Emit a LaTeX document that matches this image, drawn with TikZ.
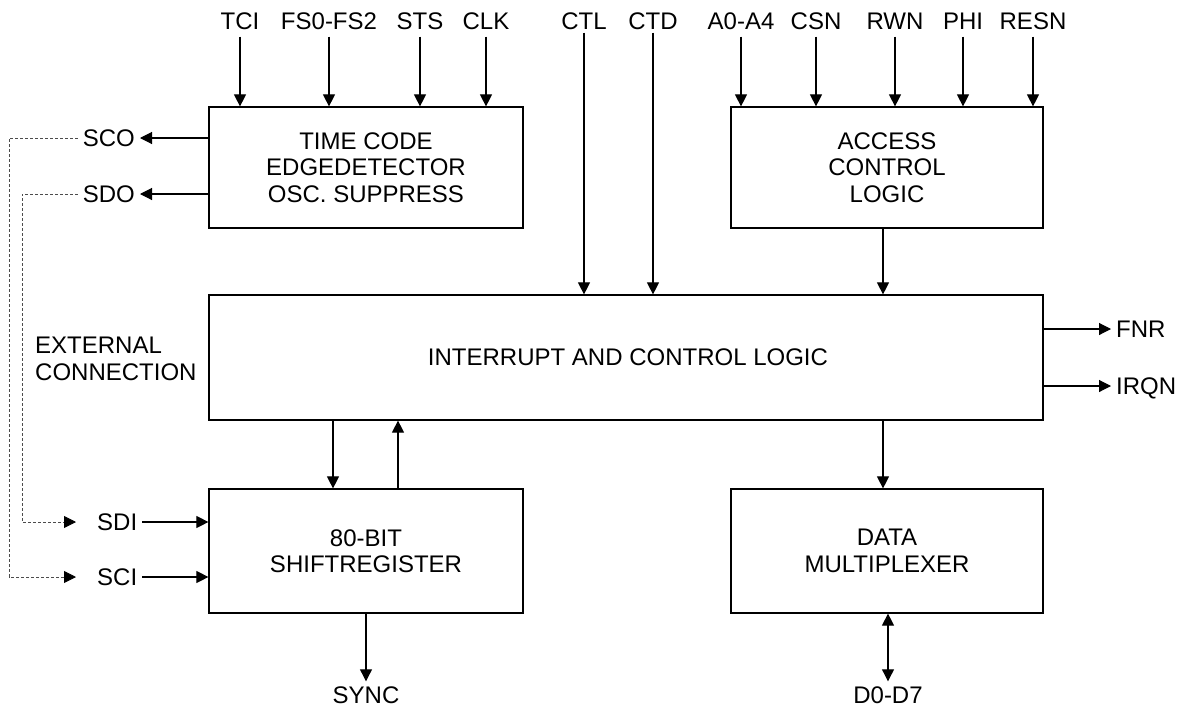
\documentclass[tikz,border=0pt]{standalone}
\usepackage{fontspec}
\setmainfont{Liberation Sans}
\usetikzlibrary{arrows.meta,calc}
\begin{document}
\begin{tikzpicture}[x=1pt,y=-1pt,
  every node/.style={font=\fontsize{24}{26.5}\selectfont, text=black},
  blk/.style={draw, line width=1.2pt, inner sep=0, align=center},
  sig/.style={inner xsep=4pt, inner ysep=7pt, text height=17pt, text depth=0pt},
  arr/.style={line width=1.1pt, -{Triangle[length=12pt,width=12pt]}},
  biarr/.style={line width=1.1pt, {Triangle[length=12pt,width=12pt]}-{Triangle[length=12pt,width=12pt]}},
  dsh/.style={line width=0.8pt, draw=black!70, dash pattern=on 3pt off 2pt, -{Triangle[length=12pt,width=12pt,black]}},
]
\useasboundingbox (0,0) rectangle (1178,707);

% blocks
\node[blk, minimum width=314pt, minimum height=121pt] (tc) at (366,167.5) {TIME CODE\\EDGEDETECTOR\\OSC. SUPPRESS};
\node[blk, minimum width=312pt, minimum height=121pt] (acl) at (887,167.5) {ACCESS\\CONTROL\\LOGIC};
\node[blk, minimum width=834pt, minimum height=125pt] (icl) at (626,357.5) {};
\node at (628,357) {INTERRUPT AND CONTROL LOGIC};
\node[blk, minimum width=314pt, minimum height=124pt] (sr) at (366,551) {80-BIT\\SHIFTREGISTER};
\node[blk, minimum width=312pt, minimum height=124pt] (dm) at (887,551) {DATA\\MULTIPLEXER};

% top signals
\foreach \n/\t/\x in {tci/TCI/240, fs/FS0-FS2/329, sts/STS/420, clk/CLK/486}{
  \node[sig] (\n) at (\x,21) {\t};
  \draw[arr] (\n) -- (\n |- tc.north);
}
\foreach \n/\t/\x in {a04/A0-A4/741, csn/CSN/816, rwn/RWN/895, phi/PHI/963, resn/RESN/1033}{
  \node[sig] (\n) at (\x,21) {\t};
  \draw[arr] (\n) -- (\n |- acl.north);
}
\foreach \n/\t/\x in {ctl/CTL/584, ctd/CTD/653}{
  \node[sig, inner ysep=3pt] (\n) at (\x,21) {\t};
  \draw[arr] (\n) -- (\n |- icl.north);
}

\draw[arr] ([xshift=-4pt]acl.south) -- ([xshift=-4pt]acl.south |- icl.north);
\draw[arr] ([xshift=-4pt]dm.north |- icl.south) -- ([xshift=-4pt]dm.north);

% right outputs
\node[sig, anchor=west, inner xsep=5pt] (fnr) at (1111,329) {FNR};
\node[sig, anchor=west, inner xsep=5pt] (irqn) at (1111,386) {IRQN};
\draw[arr] (icl.east |- fnr.west) -- (fnr.west);
\draw[arr] (icl.east |- irqn.west) -- (irqn.west);

% shift register links
\draw[arr] ([xshift=-33pt]sr.north |- icl.south) -- ([xshift=-33pt]sr.north);
\draw[arr] ([xshift=32pt]sr.north) -- ([xshift=32pt]sr.north |- icl.south);

% bottom
\node[sig, inner ysep=5pt] (sync) at (366,695) {SYNC};
\draw[arr] (sr) -- (sync);
\node[sig, inner ysep=5pt] (d07) at (888,695) {D0-D7};
\draw[biarr] (dm.south -| d07) -- (d07);

% left side
\node[sig, anchor=east, inner xsep=5pt] (sco) at (140,138) {SCO};
\node[sig, anchor=east, inner xsep=5pt] (sdo) at (140,194) {SDO};
\draw[arr] (tc.west |- sco.east) -- (sco.east);
\draw[arr] (tc.west |- sdo.east) -- (sdo.east);

\node[sig, anchor=west, inner xsep=5pt] (sdi) at (92,522) {SDI};
\node[sig, anchor=west, inner xsep=5pt] (sci) at (92,577) {SCI};
\draw[arr] (sdi.east) -- (sdi.east -| sr.west);
\draw[arr] (sci.east) -- (sci.east -| sr.west);

\coordinate (lc1) at (9,0);
\coordinate (lc2) at (22,0);
\draw[dsh] (sco.west) -- (sco.west -| lc1) |- ([xshift=-16pt]sci.west);
\draw[dsh] (sdo.west) -- (sdo.west -| lc2) |- ([xshift=-16pt]sdi.west);

\node[anchor=west, align=left, inner sep=0] (ext) at (35,359) {EXTERNAL\\CONNECTION};
\end{tikzpicture}
\end{document}
